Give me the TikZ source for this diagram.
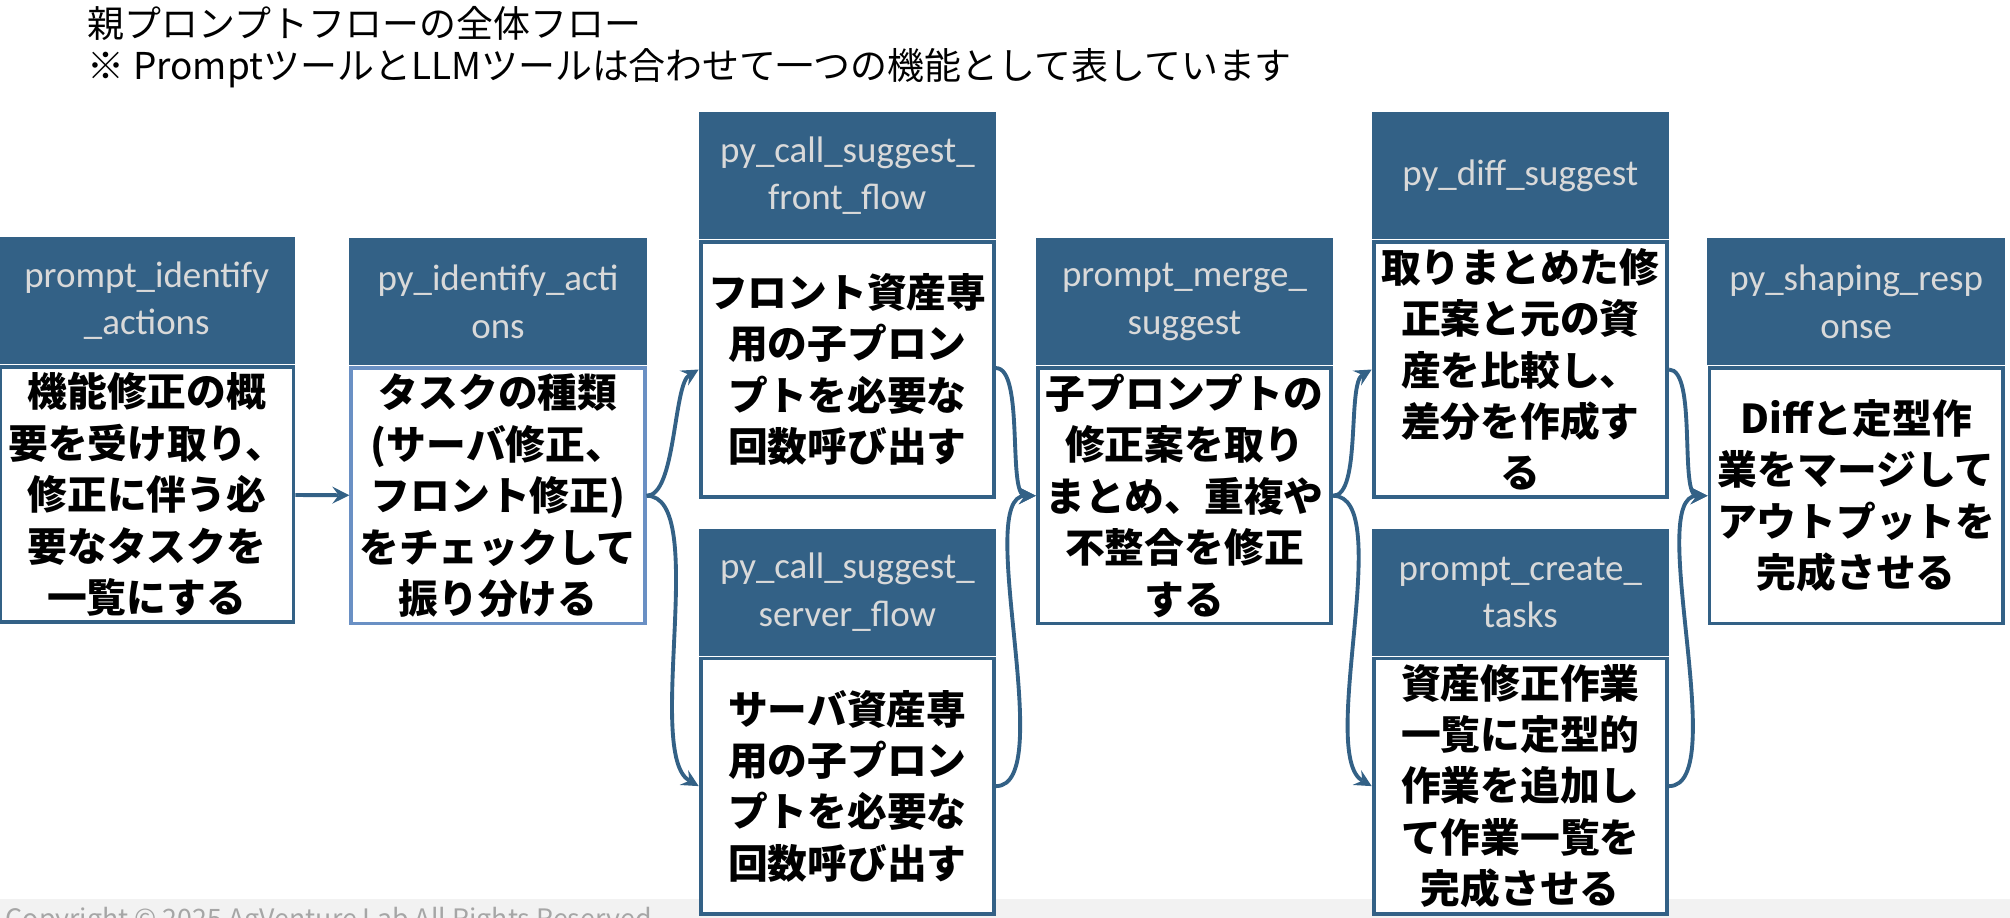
\documentclass[tikz,border=0pt]{standalone}
\usepackage{fontspec}
\setmainfont{Noto Sans CJK JP}
\newfontfamily\headfont{Carlito}
\usetikzlibrary{positioning}
\definecolor{hdblue}{HTML}{336186}
\definecolor{hdtext}{HTML}{D9D9D9}
\definecolor{lightedge}{HTML}{6A90C4}
\tikzset{
  head/.style={fill=hdblue, text=hdtext, minimum width=2.97cm, minimum height=1.27cm,
    inner sep=0pt, align=center, font=\headfont\fontsize{10.5}{13.5}\selectfont},
  body/.style={draw=hdblue, line width=1.1pt, fill=white, minimum width=2.93cm,
    minimum height=2.55cm, inner sep=0pt, align=center,
    font=\bfseries\fontsize{11.3}{14.6}\selectfont},
  flow/.style={->, >=stealth, draw=hdblue, line width=1.1pt, looseness=0.55}
}
\begin{document}
\begin{tikzpicture}[x=0.0128cm, y=-0.0128cm]
\useasboundingbox (0,0) rectangle (1568,716);
\fill[gray!10] (0,701) rectangle (1568,716);
\node[anchor=north west, text=gray!70, font=\fontsize{7.6}{9}\selectfont, inner sep=0pt] (copy) at (4,707) {Copyright © 2025 AgVenture Lab All Rights Reserved};
\node[anchor=west, inner sep=0pt, font=\fontsize{10.5}{12}\selectfont] (title) at (68,18) {親プロンプトフローの全体フロー};
\node[anchor=west, inner sep=0pt, font=\fontsize{10.5}{12}\selectfont] (note) at (68,53) {※ PromptツールとLLMツールは合わせて一つの機能として表しています};
% step 1
\node[head] (h1) at (114.5,234.5) {prompt\_identify\\\_actions};
\node[body, below=0pt of h1] (b1) {機能修正の概\\要を受け取り、\\修正に伴う必\\要なタスクを\\一覧にする};
% step 2
\node[head] (h2) at (388.5,235.5) {py\_identify\_acti\\ons};
\node[body, draw=lightedge, below=0pt of h2] (b2) {タスクの種類\\(サーバ修正、\\フロント修正)\\をチェックして\\振り分ける};
% step 3
\node[head] (h3a) at (661,137) {py\_call\_suggest\_\\front\_flow};
\node[body, below=0pt of h3a] (b3a) {フロント資産専\\用の子プロン\\プトを必要な\\回数呼び出す};
\node[head] (h3b) at (661,462) {py\_call\_suggest\_\\server\_flow};
\node[body, below=0pt of h3b] (b3b) {サーバ資産専\\用の子プロン\\プトを必要な\\回数呼び出す};
% step 4
\node[head] (h4) at (924,235.5) {prompt\_merge\_\\suggest};
\node[body, below=0pt of h4] (b4) {子プロンプトの\\修正案を取り\\まとめ、重複や\\不整合を修正\\する};
% step 5
\node[head] (h5a) at (1186,137) {py\_diff\_suggest};
\node[body, below=0pt of h5a] (b5a) {取りまとめた修\\正案と元の資\\産を比較し、\\差分を作成す\\る};
\node[head] (h5b) at (1186,462) {prompt\_create\_\\tasks};
\node[body, below=0pt of h5b] (b5b) {資産修正作業\\一覧に定型的\\作業を追加し\\て作業一覧を\\完成させる};
% step 6
\node[head] (h6) at (1448,235.5) {py\_shaping\_resp\\onse};
\node[body, below=0pt of h6] (b6) {Diffと定型作\\業をマージして\\アウトプットを\\完成させる};
% connectors
\draw[flow] (b1) -- (b2);
\draw[flow] (b2.east) to[out=0, in=210] (b3a.west);
\draw[flow] (b2.east) to[out=0, in=150] (b3b.west);
\draw[flow] (b3a.north east) ++(0,100) coordinate (o3a) (o3a) to[out=0, in=180] (b4.west);
\draw[flow] (b3b.east) to[out=0, in=180] (b4.west);
\draw[flow] (b4.east) to[out=0, in=210] (b5a.west);
\draw[flow] (b4.east) to[out=0, in=150] (b5b.west);
\draw[flow] (b5a.east) to[out=0, in=180] (b6.west);
\draw[flow] (b5b.east) to[out=0, in=180] (b6.west);
\end{tikzpicture}
\end{document}
